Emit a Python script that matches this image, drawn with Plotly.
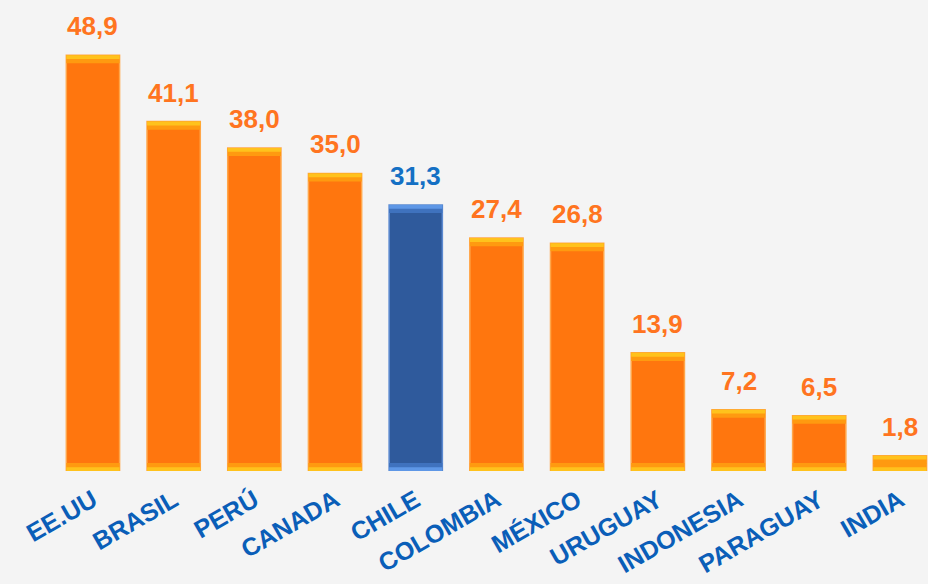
import plotly.graph_objects as go

categories = ["EE.UU", "BRASIL", "PERÚ", "CANADA", "CHILE", "COLOMBIA", "MÉXICO",
              "URUGUAY", "INDONESIA", "PARAGUAY", "INDIA"]
values = [48.9, 41.1, 38.0, 35.0, 31.3, 27.4, 26.8, 13.9, 7.2, 6.5, 1.8]
highlight = "CHILE"

ORANGE = "#FF760E"
ORANGE_CAP1 = "#FF9A10"
ORANGE_CAP2 = "#FFC21C"
BLUE = "#2F5A9C"
BLUE_CAP1 = "#3F72BE"
BLUE_CAP2 = "#5E97E6"
LABEL_ORANGE = "#FF7420"
LABEL_BLUE = "#1470C4"
TICK_BLUE = "#0A5EB8"

is_hl = [c == highlight for c in categories]
main_colors = [BLUE if h else ORANGE for h in is_hl]
cap1_colors = [BLUE_CAP1 if h else ORANGE_CAP1 for h in is_hl]
cap2_colors = [BLUE_CAP2 if h else ORANGE_CAP2 for h in is_hl]
edge_colors = ["#5C8AD0" if h else "#FFA64A" for h in is_hl]

W = 0.66
cap = 0.95
cap_in = 0.45

fig = go.Figure()
fig.add_trace(go.Bar(x=categories, y=values, width=W,
                     marker=dict(color=main_colors, line=dict(color=edge_colors, width=1.5)),
                     hoverinfo="skip"))
# top bevel
fig.add_trace(go.Bar(x=categories, y=[cap] * len(values), base=[v - cap for v in values], width=W,
                     marker=dict(color=cap1_colors, line=dict(width=0)), hoverinfo="skip"))
fig.add_trace(go.Bar(x=categories, y=[cap_in] * len(values), base=[v - cap_in for v in values], width=W,
                     marker=dict(color=cap2_colors, line=dict(width=0)), hoverinfo="skip"))
# bottom bevel
fig.add_trace(go.Bar(x=categories, y=[cap] * len(values), base=[0] * len(values), width=W,
                     marker=dict(color=cap1_colors, line=dict(width=0)), hoverinfo="skip"))
fig.add_trace(go.Bar(x=categories, y=[cap_in] * len(values), base=[0] * len(values), width=W,
                     marker=dict(color=cap2_colors, line=dict(width=0)), hoverinfo="skip"))

for c, v, h in zip(categories, values, is_hl):
    fig.add_annotation(x=c, y=v, yanchor="bottom", yshift=12, showarrow=False,
                       text="<b>" + f"{v:.1f}".replace(".", ",") + "</b>",
                       font=dict(family="Liberation Sans, Arial", size=26,
                                 color=LABEL_BLUE if h else LABEL_ORANGE))

fig.update_layout(
    width=928, height=584,
    margin=dict(l=0, r=0, t=0, b=113),
    paper_bgcolor="#F4F4F4", plot_bgcolor="#F4F4F4",
    barmode="overlay", showlegend=False,
    font=dict(family="Liberation Sans, Arial"),
    xaxis=dict(range=[-1.152, 10.348], tickangle=-30, showgrid=False, zeroline=False,
               showline=False, ticks="outside", ticklen=4, tickcolor="rgba(0,0,0,0)",
               automargin=False,
               tickfont=dict(family="Liberation Sans, Arial", size=25, color=TICK_BLUE),
               tickprefix="<b>", ticksuffix="</b>"),
    yaxis=dict(range=[0, 55.4], visible=False, automargin=False),
)

fig.write_html("out.html", config={"displayModeBar": False},
               post_script="document.body.style.margin='0';document.body.style.overflow='hidden';")
